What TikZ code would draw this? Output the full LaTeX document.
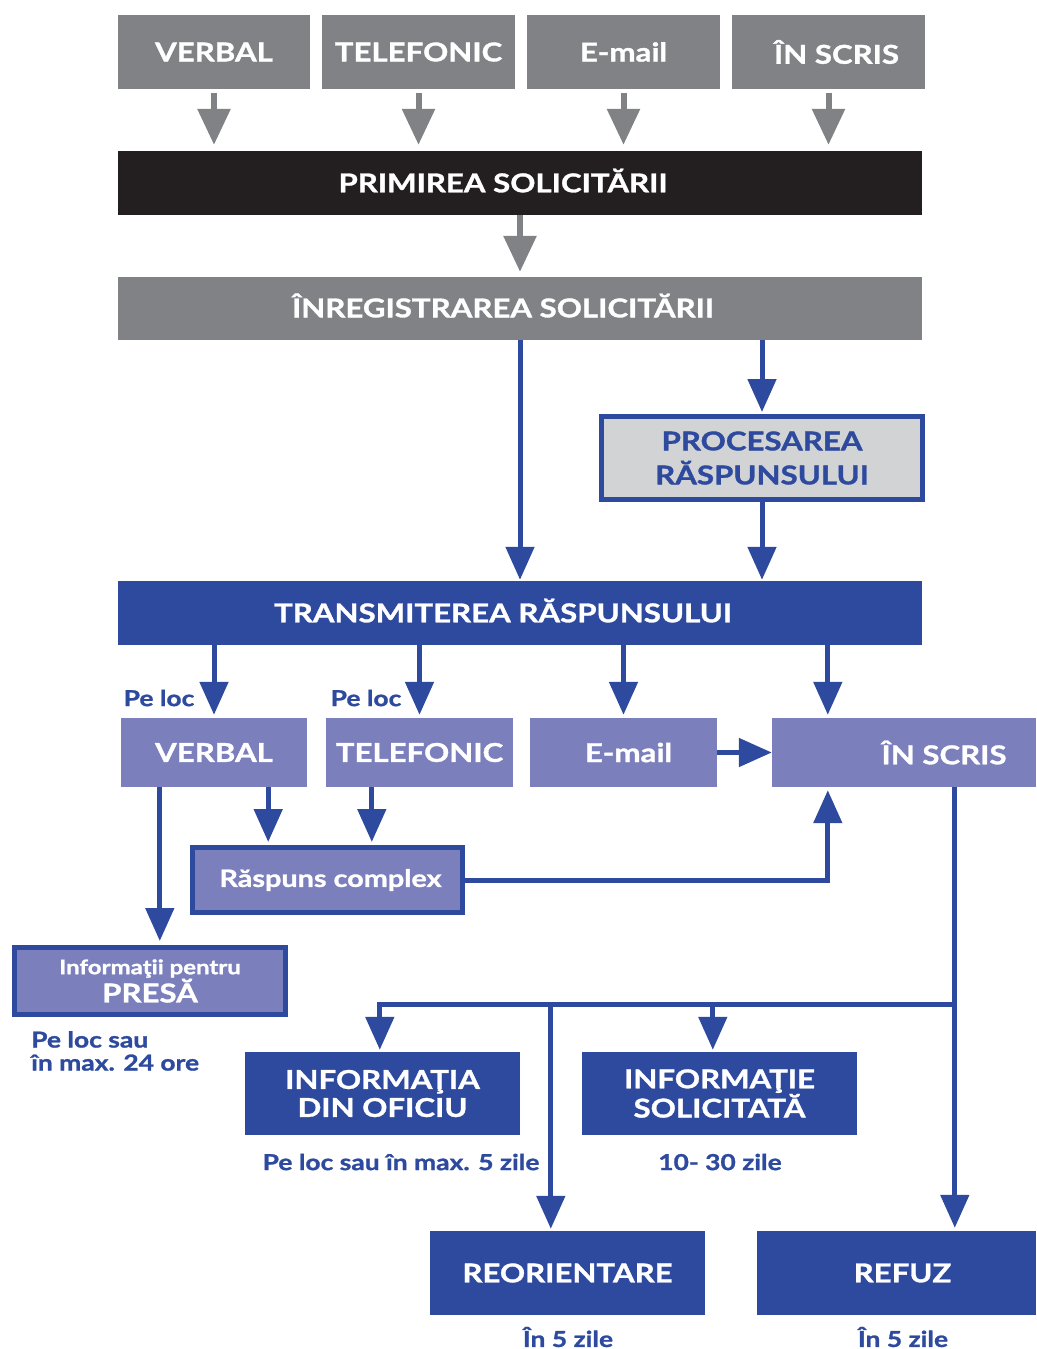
\documentclass[tikz,border=0pt]{standalone}
\usepackage{fontspec}
\setmainfont{Lato}[FakeStretch=1.2, BoldFeatures={FakeBold=1.2}]
\usetikzlibrary{arrows.meta,calc}
\definecolor{cgray}{HTML}{808285}
\definecolor{cblack}{HTML}{231F20}
\definecolor{cblue}{HTML}{2E4A9E}
\definecolor{cperi}{HTML}{7B7FBC}
\definecolor{clight}{HTML}{D1D3D4}
\begin{document}
\begin{tikzpicture}[x=1pt,y=-1pt,
  box/.style={inner sep=0pt, text=white, align=center, font=\fontsize{26}{28}\selectfont\bfseries},
  graybox/.style={box, fill=cgray},
  blackbox/.style={box, fill=cblack},
  bluebox/.style={box, fill=cblue},
  peribox/.style={box, fill=cperi},
  framebox/.style={box, fill=cperi, draw=cblue, line width=5pt},
  lbl/.style={inner sep=0pt, text=cblue, align=left, font=\fontsize{22}{24}\selectfont\bfseries},
  garrow/.style={draw=cgray, line width=6pt, -{Triangle[width=32pt,length=36pt]}},
  barrow/.style={draw=cblue, line width=5pt, -{Triangle[width=28pt,length=33pt]}},
  bline/.style={draw=cblue, line width=5pt}
]
\useasboundingbox (0,0) rectangle (1036,1349);

% top row
\node[graybox, minimum width=192pt, minimum height=74pt] (gv) at (214,52) {VERBAL};
\node[graybox, minimum width=193pt, minimum height=74pt] (gt) at (418.5,52) {TELEFONIC};
\node[graybox, minimum width=193pt, minimum height=74pt] (ge) at (623.5,52) {E-mail};
\node[graybox, minimum width=193pt, minimum height=74pt] (gs) at (828.5,52) {\hspace*{16pt}ÎN SCRIS};

\node[blackbox, minimum width=804pt, minimum height=64pt] (prim) at (520,183) {\raisebox{5pt}{PRIMIREA SOLICITĂRII}\hspace*{34pt}};
\node[graybox, minimum width=804pt, minimum height=63pt] (inreg) at (520,308.5) {\raisebox{6pt}{ÎNREGISTRAREA SOLICITĂRII}\hspace*{34pt}};
\node[box, fill=clight, draw=cblue, line width=5pt, text=cblue, font=\fontsize{26}{34}\selectfont\bfseries,
      minimum width=321pt, minimum height=83pt] (proc) at (762,458) {PROCESAREA\\RĂSPUNSULUI};
\node[bluebox, minimum width=804pt, minimum height=64pt] (trans) at (520,613) {\raisebox{5pt}{TRANSMITEREA RĂSPUNSULUI}\hspace*{34pt}};

% second row
\node[peribox, minimum width=186pt, minimum height=69pt] (vv) at (214,752.5) {VERBAL};
\node[peribox, minimum width=187pt, minimum height=69pt] (tt) at (419.5,752.5) {TELEFONIC};
\node[peribox, minimum width=187pt, minimum height=69pt] (ee) at (623.5,752.5) {\hspace*{10pt}E-mail};
\node[peribox, minimum width=264pt, minimum height=69pt] (ss) at (904,752.5) {\hspace*{80pt}ÎN SCRIS};

\node[framebox, minimum width=270pt, minimum height=65pt, font=\fontsize{24}{26}\selectfont\bfseries] (rc) at (327.5,880) {\hspace*{6pt}Răspuns complex};
\node[framebox, minimum width=271pt, minimum height=67pt, font=\fontsize{20}{27}\selectfont\bfseries] (pr) at (150,981)
  {Informaţii pentru\\{\fontsize{26}{28}\selectfont PRESĂ}};

% bottom boxes
\node[bluebox, minimum width=275pt, minimum height=83pt, font=\fontsize{26}{28}\selectfont\bfseries] (of) at (382.5,1093.5) {INFORMAŢIA\\DIN OFICIU};
\node[bluebox, minimum width=275pt, minimum height=83pt, font=\fontsize{26}{28}\selectfont\bfseries] (so) at (719.5,1093.5) {INFORMAŢIE\\SOLICITATĂ};
\node[bluebox, minimum width=275pt, minimum height=84pt] (re) at (567.5,1273) {REORIENTARE};
\node[bluebox, minimum width=279pt, minimum height=84pt] (rf) at (896.5,1273) {\hspace*{12pt}REFUZ};

% labels
\node[lbl] (pl1) at (159,698) {Pe loc};
\node[lbl] (pl2) at (366,698) {Pe loc};
\node[lbl, anchor=north west, font=\fontsize{22}{23}\selectfont\bfseries] (l24) at (31,1031) {Pe loc sau\\în max. 24 ore};
\node[lbl] (l5) at (401,1162) {Pe loc sau în max. 5 zile};
\node[lbl] (l30) at (720,1162) {10- 30 zile};
\node[lbl] (lre) at (568,1337) {În 5 zile};
\node[lbl] (lrf) at (903,1337) {În 5 zile};

% gray arrows
\foreach \n in {gv,gt,ge,gs}
  \draw[garrow, shorten <=4pt, shorten >=6pt] (\n.south) -- (\n.south |- prim.north);
\draw[garrow, shorten >=5pt] (prim.south) -- (inreg.north);

% blue arrows
\draw[barrow, shorten >=1pt] (inreg.south) -- (trans.north);
\draw[barrow, shorten >=2pt] (proc.north |- inreg.south) -- (proc.north);
\draw[barrow, shorten >=1pt] (proc.south) -- (proc.south |- trans.north);

\coordinate (sin) at ($(ss.north west)+(56,0)$);
\foreach \n in {vv,tt,ee,sin}
  \draw[barrow, shorten >=3pt] (\n |- trans.south) -- (\n);
\draw[barrow] (ee.east) -- (ss.west);

\coordinate (vA) at ($(vv.south west)+(39,0)$);
\coordinate (vB) at ($(vv.south east)+(-39,0)$);
\coordinate (tA) at ($(tt.south west)+(46,0)$);
\draw[barrow, shorten >=4pt] (vA) -- (vA |- pr.north);
\draw[barrow, shorten >=3pt] (vB) -- (vB |- rc.north);
\draw[barrow, shorten >=3pt] (tA) -- (tA |- rc.north);
\draw[barrow, shorten >=3pt] (rc.east) -| ($(ss.south west)+(56,0)$);

\coordinate (sB) at ($(ss.south west)+(183,0)$);
\coordinate (j) at (955,1004);
\coordinate (ofT) at ($(of.north west)+(135,0)$);
\coordinate (soT) at ($(so.north west)+(131,0)$);
\coordinate (reT) at ($(re.north west)+(121,0)$);
\draw[barrow, shorten >=3pt] (sB) -- (sB |- rf.north);
\draw[barrow, shorten >=2pt] (j) -| (ofT);
\draw[barrow, shorten >=2pt] (j -| soT) -- (soT);
\draw[barrow, shorten >=2pt] (j -| reT) -- (reT);
\end{tikzpicture}
\end{document}
